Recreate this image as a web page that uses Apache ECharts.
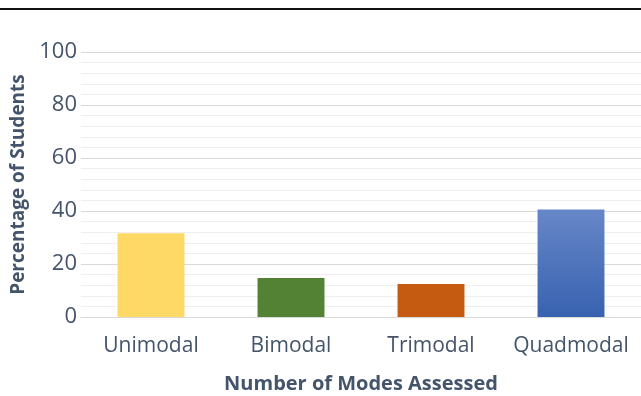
<!DOCTYPE html>
<html>
<head>
<meta charset="utf-8">
<script src="https://cdn.jsdelivr.net/npm/echarts@6/dist/echarts.min.js"></script>
<style>
  html, body { margin: 0; padding: 0; background: #fff; }
  #chart { width: 641px; height: 396px; }
</style>
</head>
<body>
<div id="chart"></div>
<script>
var categories = ['Unimodal', 'Bimodal', 'Trimodal', 'Quadmodal'];
var percentages = [31.6, 14.7, 12.5, 40.6];
var barColors = ['#FFD966', '#548235', '#C55A11', null];

var myChart = echarts.init(document.getElementById('chart'));

var blueGrad = new echarts.graphic.LinearGradient(0, 0, 0, 1, [
    { offset: 0, color: '#6787C8' },
    { offset: 1, color: '#3862B0' }
]);

var option = {
    animation: false,
    textStyle: { fontFamily: 'Open Sans' },
    graphic: [{
        type: 'rect',
        left: 0,
        top: 8,
        shape: { width: 641, height: 2 },
        style: { fill: '#111' }
    }],
    grid: { left: 81, right: 0, top: 52, bottom: 79, outerBoundsMode: 'none' },
    xAxis: {
        type: 'category',
        data: categories,
        axisLine: { show: true, lineStyle: { color: '#d9d9d9' } },
        axisTick: { show: false },
        axisLabel: { color: '#44546A', fontSize: 21, margin: 19, interval: 0 },
        name: 'Number of Modes Assessed',
        nameLocation: 'middle',
        nameGap: 57,
        nameTextStyle: { color: '#44546A', fontSize: 20, fontWeight: 'bold' }
    },
    yAxis: {
        type: 'value',
        min: 0,
        max: 100,
        interval: 20,
        axisLine: { show: false },
        axisTick: { show: false },
        axisLabel: { color: '#44546A', fontSize: 22, margin: 4 },
        splitLine: { lineStyle: { color: '#d9d9d9', width: 1 } },
        minorTick: { show: false, splitNumber: 5 },
        minorSplitLine: { show: true, lineStyle: { color: '#efefef', width: 1 } },
        name: 'Percentage of Students',
        nameLocation: 'middle',
        nameGap: 47,
        nameTextStyle: { color: '#44546A', fontSize: 19, fontWeight: 'bold' }
    },
    series: [{
        type: 'bar',
        barWidth: '47.8%',
        data: percentages.map(function (v, i) {
            return { value: v, itemStyle: { color: barColors[i] || blueGrad } };
        })
    }]
};

myChart.setOption(option);
</script>
</body>
</html>
